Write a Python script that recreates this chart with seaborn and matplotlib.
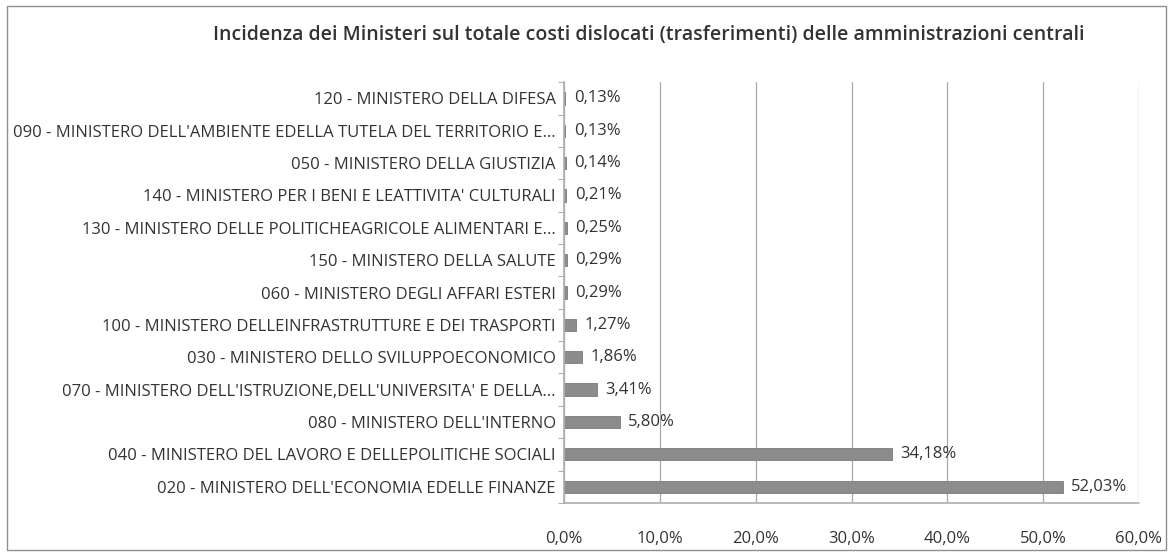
import matplotlib
matplotlib.use("Agg")
import matplotlib.pyplot as plt
import matplotlib.ticker as mticker
import numpy as np
import pandas as pd
import seaborn as sns

CATEGORIES = [
    "120 - MINISTERO DELLA DIFESA",
    "090 - MINISTERO DELL'AMBIENTE EDELLA TUTELA DEL TERRITORIO E...",
    "050 - MINISTERO DELLA GIUSTIZIA",
    "140 - MINISTERO PER I BENI E LEATTIVITA' CULTURALI",
    "130 - MINISTERO DELLE POLITICHEAGRICOLE ALIMENTARI E...",
    "150 - MINISTERO DELLA SALUTE",
    "060 - MINISTERO DEGLI AFFARI ESTERI",
    "100 - MINISTERO DELLEINFRASTRUTTURE E DEI TRASPORTI",
    "030 - MINISTERO DELLO SVILUPPOECONOMICO",
    "070 - MINISTERO DELL'ISTRUZIONE,DELL'UNIVERSITA' E DELLA...",
    "080 - MINISTERO DELL'INTERNO",
    "040 - MINISTERO DEL LAVORO E DELLEPOLITICHE SOCIALI",
    "020 - MINISTERO DELL'ECONOMIA EDELLE FINANZE",
]
SHARES = [0.13, 0.13, 0.14, 0.21, 0.25, 0.29, 0.29, 1.27, 1.86, 3.41, 5.80, 34.18, 52.03]
X_TICKS = [0, 10, 20, 30, 40, 50, 60]

TITLE = "Incidenza dei Ministeri sul totale costi dislocati (trasferimenti) delle amministrazioni centrali"


def main() -> None:
    sns.set_theme(style="white")
    plt.rcParams["font.family"] = ["Open Sans", "DejaVu Sans"]

    df = pd.DataFrame({"ministero": CATEGORIES, "quota": SHARES})

    fig = plt.figure(figsize=(11.73, 5.52), dpi=100)
    ax = fig.add_axes([0.481, 0.089, 0.49, 0.762])

    sns.barplot(
        data=df,
        y="ministero",
        x="quota",
        orient="h",
        color="#8c8c8c",
        edgecolor="#7a7a7a",
        linewidth=0.6,
        width=0.38,
        saturation=1,
        ax=ax,
    )

    for patch, value in zip(ax.patches, SHARES):
        ax.text(
            patch.get_width() + 0.9,
            patch.get_y() + patch.get_height() / 2,
            f"{value:.2f}%".replace(".", ","),
            va="center",
            ha="left",
            fontsize=12,
            color="#333333",
        )

    ax.set_xlim(0, 60)
    ax.set_xticks(X_TICKS)
    ax.xaxis.set_major_formatter(mticker.FuncFormatter(lambda v, _: f"{v:.1f}%".replace(".", ",")))
    ax.grid(axis="x", color="#a8a8a8", linewidth=0.9)
    ax.set_axisbelow(True)
    ax.set_xlabel("")
    ax.set_ylabel("")

    # small separator ticks on the category axis
    ax.set_yticks(np.arange(-0.5, len(CATEGORIES), 1.0), minor=True)
    ax.tick_params(axis="y", which="minor", length=4, width=0.8, color="#b0b0b0", left=True)

    for side in ["top", "right"]:
        ax.spines[side].set_visible(False)
    ax.spines["left"].set_color("#b0b0b0")
    ax.spines["bottom"].set_color("#b0b0b0")
    ax.spines["bottom"].set_linestyle((0, (1, 1)))

    ax.tick_params(axis="y", which="major", labelsize=12, labelcolor="#333333", length=0, pad=6)
    ax.tick_params(axis="x", labelsize=12, labelcolor="#333333", length=0, pad=20)

    fig.text(0.553, 0.937, TITLE, ha="center", va="center", fontsize=14,
             fontweight="semibold", color="#333333")

    border = plt.Rectangle((0.006, 0.004), 0.988, 0.986, transform=fig.transFigure,
                           fill=False, edgecolor="#909090", linewidth=1.0)
    fig.add_artist(border)

    fig.savefig("out.png", dpi=100)
    plt.close(fig)


if __name__ == "__main__":
    main()
